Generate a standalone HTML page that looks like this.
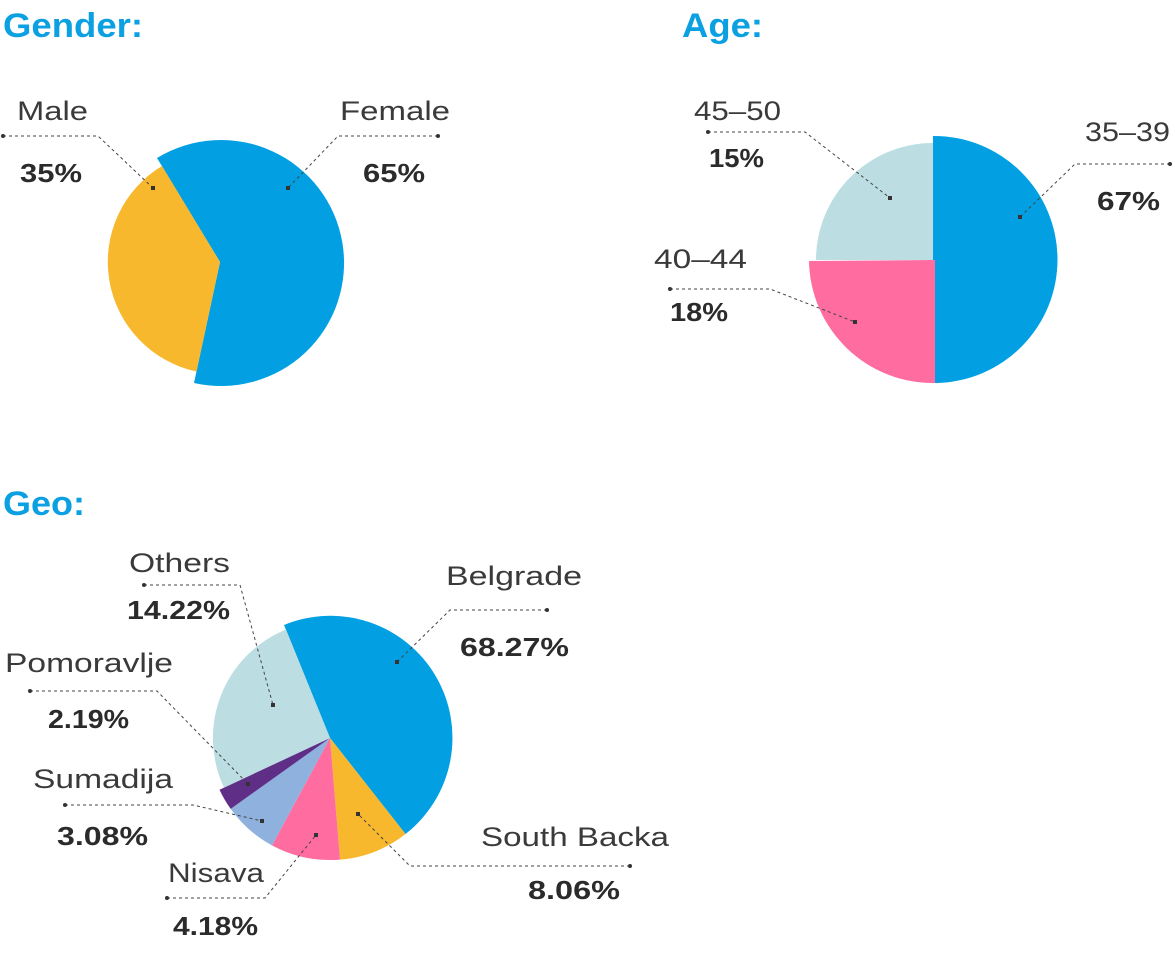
<!DOCTYPE html>
<html><head><meta charset="utf-8"><style>
html,body{margin:0;padding:0;background:#fff;}
svg{display:block;}
.t{font-family:"Liberation Sans",sans-serif;font-weight:bold;font-size:34px;fill:#0aa0e2;}
.l{font-family:"Liberation Sans",sans-serif;font-size:27px;fill:#3a3a3a;}
.p{font-family:"Liberation Sans",sans-serif;font-weight:bold;font-size:26px;fill:#2b2b2b;}
.ln{fill:none;stroke:#444;stroke-width:1;stroke-dasharray:3,3;}
.d{fill:#333;}
</style></head><body>
<svg width="1175" height="964" viewBox="0 0 1175 964" xmlns="http://www.w3.org/2000/svg">
<text class="t" x="3" y="37" textLength="140" lengthAdjust="spacingAndGlyphs">Gender:</text>
<text class="t" x="682" y="37" textLength="81" lengthAdjust="spacingAndGlyphs">Age:</text>
<text class="t" x="3" y="515" textLength="82" lengthAdjust="spacingAndGlyphs">Geo:</text>

<!-- Gender -->
<path d="M220,262 L157,158 A123,123 0 1 1 194,383 Z" fill="#02a0e3"/>
<path d="M220,262 L196.5,371.5 A112,112 0 0 1 162,166 Z" fill="#f8b82d"/>
<text class="l" x="17" y="120" textLength="71" lengthAdjust="spacingAndGlyphs">Male</text>
<text class="p" x="20" y="182" textLength="62" lengthAdjust="spacingAndGlyphs">35%</text>
<text class="l" x="340" y="120" textLength="110" lengthAdjust="spacingAndGlyphs">Female</text>
<text class="p" x="363" y="182" textLength="62" lengthAdjust="spacingAndGlyphs">65%</text>
<polyline class="ln" points="3,136 98,136 153,188"/>
<polyline class="ln" points="438,136 338,136 288,188"/>
<circle class="d" cx="3" cy="136" r="2"/><rect class="d" x="151" y="186" width="4" height="4"/>
<circle class="d" cx="438" cy="136" r="2"/><rect class="d" x="286" y="186" width="4" height="4"/>

<!-- Age -->
<path d="M933,260 L933,136 A123,123 0 0 1 935,383 Z" fill="#02a0e3"/>
<path d="M933,260 L816,260 A117,117 0 0 1 933,143 Z" fill="#bcdde2"/>
<path d="M935,260 L935,383 A124,124 0 0 1 809,261 Z" fill="#fe6ca0"/>
<text class="l" x="694" y="120" textLength="87" lengthAdjust="spacingAndGlyphs">45–50</text>
<text class="p" x="709" y="167" textLength="55" lengthAdjust="spacingAndGlyphs">15%</text>
<text class="l" x="1085" y="141" textLength="85" lengthAdjust="spacingAndGlyphs">35–39</text>
<text class="p" x="1097" y="210" textLength="63" lengthAdjust="spacingAndGlyphs">67%</text>
<text class="l" x="654" y="268" textLength="93" lengthAdjust="spacingAndGlyphs">40–44</text>
<text class="p" x="670" y="321" textLength="58" lengthAdjust="spacingAndGlyphs">18%</text>
<polyline class="ln" points="708,132 805,132 890,198"/>
<polyline class="ln" points="1170,164 1075,164 1020,217"/>
<polyline class="ln" points="670,289 770,289 855,322"/>
<circle class="d" cx="708" cy="132" r="2"/><rect class="d" x="888" y="196" width="4" height="4"/>
<circle class="d" cx="1170" cy="164" r="2"/><rect class="d" x="1018" y="215" width="4" height="4"/>
<circle class="d" cx="670" cy="289" r="2"/><rect class="d" x="853" y="320" width="4" height="4"/>

<!-- Geo -->
<path d="M330,738 L284,625 A122,122 0 0 1 405.5,834 Z" fill="#02a0e3"/>
<path d="M330,738 L405.5,834 A122,122 0 0 1 340,859.6 Z" fill="#f8b82d"/>
<path d="M330,738 L340,859.6 A122,122 0 0 1 272,845.4 Z" fill="#fe6ca0"/>
<path d="M330,738 L272,845.4 A122,122 0 0 1 230.7,808.9 Z" fill="#8fb1de"/>
<path d="M330,738 L230.7,808.9 A122,122 0 0 1 219.5,789.7 Z" fill="#5f2e86"/>
<path d="M330,738 L224,787.6 A117,117 0 0 1 286,629.5 Z" fill="#bcdde2"/>
<text class="l" x="129" y="572" textLength="101" lengthAdjust="spacingAndGlyphs">Others</text>
<text class="p" x="127" y="619" textLength="103" lengthAdjust="spacingAndGlyphs">14.22%</text>
<text class="l" x="446" y="585" textLength="136" lengthAdjust="spacingAndGlyphs">Belgrade</text>
<text class="p" x="460" y="656" textLength="109" lengthAdjust="spacingAndGlyphs">68.27%</text>
<text class="l" x="5" y="672" textLength="168" lengthAdjust="spacingAndGlyphs">Pomoravlje</text>
<text class="p" x="48" y="728" textLength="81" lengthAdjust="spacingAndGlyphs">2.19%</text>
<text class="l" x="33" y="788" textLength="140" lengthAdjust="spacingAndGlyphs">Sumadija</text>
<text class="p" x="57" y="845" textLength="91" lengthAdjust="spacingAndGlyphs">3.08%</text>
<text class="l" x="168" y="882" textLength="96" lengthAdjust="spacingAndGlyphs">Nisava</text>
<text class="p" x="173" y="935" textLength="85" lengthAdjust="spacingAndGlyphs">4.18%</text>
<text class="l" x="481" y="846" textLength="188" lengthAdjust="spacingAndGlyphs">South Backa</text>
<text class="p" x="528" y="899" textLength="92" lengthAdjust="spacingAndGlyphs">8.06%</text>
<polyline class="ln" points="144,585 240,585 273,705"/>
<polyline class="ln" points="547,610 450,610 397,662"/>
<polyline class="ln" points="30,691 157,691 248,784"/>
<polyline class="ln" points="65,805 193,805 262,821"/>
<polyline class="ln" points="167,898 265,898 316,835"/>
<polyline class="ln" points="630,866 410,866 358,814"/>
<circle class="d" cx="144" cy="585" r="2"/><rect class="d" x="271" y="703" width="4" height="4"/>
<circle class="d" cx="547" cy="610" r="2"/><rect class="d" x="395" y="660" width="4" height="4"/>
<circle class="d" cx="30" cy="691" r="2"/><rect class="d" x="246" y="782" width="4" height="4"/>
<circle class="d" cx="65" cy="805" r="2"/><rect class="d" x="260" y="819" width="4" height="4"/>
<circle class="d" cx="167" cy="898" r="2"/><rect class="d" x="314" y="833" width="4" height="4"/>
<circle class="d" cx="630" cy="866" r="2"/><rect class="d" x="356" y="812" width="4" height="4"/>
</svg>
</body></html>
